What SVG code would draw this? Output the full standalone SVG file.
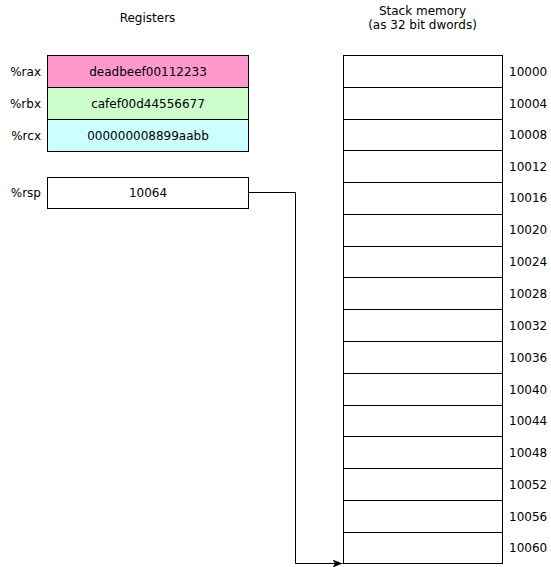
<svg xmlns="http://www.w3.org/2000/svg" width="551" height="567" viewBox="0 0 551 567">
<style>
text{font-family:"DejaVu Sans",sans-serif;font-size:12px;fill:#000}
.c{text-anchor:middle}
.r{text-anchor:end}
.box{stroke:#000;stroke-width:1}
.cell{fill:#fff;stroke:#000;stroke-width:1}
.conn{fill:none;stroke:#000;stroke-width:1}
</style>
<defs>
<marker id="ah" markerWidth="10" markerHeight="8" refX="10" refY="4" orient="auto" markerUnits="userSpaceOnUse">
<path d="M0,0 L10,4 L0,8 L2.5,4 Z" fill="#000"/>
</marker>
</defs>
<text class="c" x="147.5" y="22">Registers</text>
<text class="c" x="422.5" y="15">Stack memory</text>
<text class="c" x="422.5" y="29">(as 32 bit dwords)</text>
<g id="rax"><rect class="box" x="47.5" y="55.5" width="201" height="32" fill="#ff99cc"/><text class="r" x="41" y="76">%rax</text><text class="c" x="148" y="76">deadbeef00112233</text></g>
<g id="rbx"><rect class="box" x="47.5" y="87.5" width="201" height="32" fill="#ccffcc"/><text class="r" x="41" y="108">%rbx</text><text class="c" x="148" y="108">cafef00d44556677</text></g>
<g id="rcx"><rect class="box" x="47.5" y="119.5" width="201" height="32" fill="#ccffff"/><text class="r" x="41" y="140">%rcx</text><text class="c" x="148" y="140">000000008899aabb</text></g>
<g id="rsp"><rect class="box" x="47.5" y="177.5" width="201" height="31" fill="#fff"/><text class="r" x="41" y="197">%rsp</text><text class="c" x="148" y="197">10064</text></g>
<g id="stack">
<g id="m10000"><rect class="cell" x="343.5" y="55.5" width="159" height="32"/><text x="509" y="76">10000</text></g>
<g id="m10004"><rect class="cell" x="343.5" y="87.5" width="159" height="32"/><text x="509" y="108">10004</text></g>
<g id="m10008"><rect class="cell" x="343.5" y="119.5" width="159" height="31"/><text x="509" y="139">10008</text></g>
<g id="m10012"><rect class="cell" x="343.5" y="150.5" width="159" height="32"/><text x="509" y="171">10012</text></g>
<g id="m10016"><rect class="cell" x="343.5" y="182.5" width="159" height="32"/><text x="509" y="202">10016</text></g>
<g id="m10020"><rect class="cell" x="343.5" y="214.5" width="159" height="32"/><text x="509" y="234">10020</text></g>
<g id="m10024"><rect class="cell" x="343.5" y="246.5" width="159" height="31"/><text x="509" y="266">10024</text></g>
<g id="m10028"><rect class="cell" x="343.5" y="277.5" width="159" height="32"/><text x="509" y="298">10028</text></g>
<g id="m10032"><rect class="cell" x="343.5" y="309.5" width="159" height="32"/><text x="509" y="330">10032</text></g>
<g id="m10036"><rect class="cell" x="343.5" y="341.5" width="159" height="32"/><text x="509" y="362">10036</text></g>
<g id="m10040"><rect class="cell" x="343.5" y="373.5" width="159" height="32"/><text x="509" y="394">10040</text></g>
<g id="m10044"><rect class="cell" x="343.5" y="405.5" width="159" height="31"/><text x="509" y="425">10044</text></g>
<g id="m10048"><rect class="cell" x="343.5" y="436.5" width="159" height="32"/><text x="509" y="457">10048</text></g>
<g id="m10052"><rect class="cell" x="343.5" y="468.5" width="159" height="32"/><text x="509" y="489">10052</text></g>
<g id="m10056"><rect class="cell" x="343.5" y="500.5" width="159" height="32"/><text x="509" y="521">10056</text></g>
<g id="m10060"><rect class="cell" x="343.5" y="532.5" width="159" height="31"/><text x="509" y="552">10060</text></g>
</g>
<g id="connectors">
<path class="conn" d="M248.5,192.5 H295.5 V563.5 H342.5" marker-end="url(#ah)"/>
</g>
</svg>
